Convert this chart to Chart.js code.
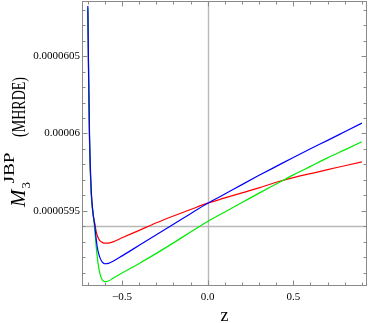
<!DOCTYPE html>
<html>
<head>
<meta charset="utf-8">
<script src="https://cdn.jsdelivr.net/npm/chart.js@4.4.0/dist/chart.umd.min.js"></script>
<style>
  html, body { margin: 0; padding: 0; background: #fff; }
  #wrap { width: 368px; height: 323px; }
</style>
</head>
<body>
<div id="wrap"><canvas id="grafico" width="368" height="323"></canvas></div>
<script>
// z values (x axis)
const zValues = [-0.70, -0.695, -0.69, -0.68, -0.67, -0.66, -0.655, -0.65, -0.645, -0.64, -0.63, -0.62, -0.61, -0.60, -0.58, -0.55,
    -0.5, -0.4, -0.3, -0.2, -0.1, 0, 0.1, 0.2, 0.3, 0.4, 0.5, 0.6, 0.7, 0.8, 0.9]

// M3 values, in units of 1e-6
const redValues = [60.790, 60.320, 59.940, 59.617, 59.481, 59.422, 59.390, 59.360, 59.341, 59.325, 59.307, 59.297, 59.292, 59.290, 59.291, 59.300,
    59.325, 59.373, 59.422, 59.466, 59.508, 59.549, 59.583, 59.616, 59.648, 59.684, 59.714, 59.740, 59.766, 59.791, 59.816]
const blueValues = [60.825, 60.357, 59.987, 59.630, 59.487, 59.409, 59.357, 59.305, 59.266, 59.237, 59.198, 59.175, 59.162, 59.157, 59.159, 59.175,
    59.208, 59.276, 59.344, 59.412, 59.481, 59.548, 59.608, 59.669, 59.729, 59.787, 59.845, 59.901, 59.955, 60.011, 60.067]
const greenValues = [60.812, 60.344, 59.968, 59.604, 59.494, 59.383, 59.318, 59.253, 59.201, 59.156, 59.097, 59.062, 59.045, 59.041, 59.045, 59.065,
    59.097, 59.159, 59.224, 59.292, 59.362, 59.431, 59.492, 59.553, 59.614, 59.673, 59.732, 59.787, 59.842, 59.894, 59.946]

// tick labels
const xTickValues = [-0.5, 0, 0.5]
const xTickLabels = ['\u22120.5', '0.0', '0.5']
const yTickValues = [59.5e-6, 60e-6, 60.5e-6]
const yTickLabels = ['0.0000595', '0.00006', '0.0000605']

// axis crossing lines
const xAxisAt = 59.4e-6
const yAxisAt = 0

const serif = "'Liberation Serif', 'Times New Roman', serif"

function toPoints(vals) {
    return zValues.map((z, i) => ({ x: z, y: vals[i] * 1e-6 }))
}

function noPad(s) {
    s.paddingTop = 0
    s.paddingBottom = 0
    s.paddingLeft = 0
    s.paddingRight = 0
}

// text squeezed along its own direction to a given length
function fitText(ctx, txt, u, v, len) {
    const w = ctx.measureText(txt).width
    ctx.save()
    ctx.translate(u, v)
    ctx.scale(len / w, 1)
    ctx.fillText(txt, 0, 0)
    ctx.restore()
}

// frame, inner ticks, axis lines and the y title
const frame = {
    id: 'frame',
    beforeDatasetsDraw(chart) {
        const { ctx, chartArea: a, scales: { x, y } } = chart
        ctx.save()
        ctx.strokeStyle = '#b8b8b8'
        ctx.lineWidth = 1.4
        const px = Math.round(x.getPixelForValue(yAxisAt)) + 0.5
        const py = Math.round(y.getPixelForValue(xAxisAt)) + 0.5
        ctx.beginPath()
        ctx.moveTo(px, a.top); ctx.lineTo(px, a.bottom)
        ctx.moveTo(a.left, py); ctx.lineTo(a.right, py)
        ctx.stroke()
        ctx.restore()
    },
    afterDatasetsDraw(chart) {
        const { ctx, chartArea: a, scales: { x, y } } = chart
        ctx.save()
        ctx.strokeStyle = '#8a8a8a'
        ctx.lineWidth = 1
        const L = Math.round(a.left) + 0.5, R = Math.round(a.right) - 0.5
        const T = Math.round(a.top) + 0.5, B = Math.round(a.bottom) - 0.5
        ctx.strokeRect(L, T, R - L, B - T)
        ctx.beginPath()
        for (let k = -7; k <= 9; k++) {
            const p = Math.round(x.getPixelForValue(k / 10)) + 0.5
            const len = (k % 5 === 0) ? 5 : 3
            ctx.moveTo(p, B); ctx.lineTo(p, B - len)
            ctx.moveTo(p, T); ctx.lineTo(p, T + len)
        }
        for (let k = 591; k <= 608; k++) {
            const p = Math.round(y.getPixelForValue(k * 1e-7)) + 0.5
            const len = (k % 5 === 0) ? 5 : 3
            ctx.moveTo(L, p); ctx.lineTo(L + len, p)
            ctx.moveTo(R, p); ctx.lineTo(R - len, p)
        }
        ctx.stroke()

        // y title: M_3^JBP(MHRDE), read bottom to top
        ctx.fillStyle = '#000'
        ctx.translate(25, 207)
        ctx.rotate(-Math.PI / 2)
        ctx.textBaseline = 'alphabetic'
        ctx.font = 'italic 21px ' + serif
        ctx.fillText('M', 0, 0)
        const wM = ctx.measureText('M').width
        ctx.font = '13px ' + serif
        ctx.fillText('3', wM + 1, 5)
        ctx.font = '15px ' + serif
        fitText(ctx, 'JBP', wM + 6, -11, 31)
        ctx.font = '19px ' + serif
        fitText(ctx, '(MHRDE)', 70, 0, 60)
        ctx.restore()
    }
}

const ctx = document.getElementById('grafico')
new Chart(ctx, {
    type: 'line',
    data: {
        datasets: [
            { label: 'blue', data: toPoints(blueValues), borderColor: 'rgb(0, 0, 255)' },
            { label: 'green', data: toPoints(greenValues), borderColor: 'rgb(0, 235, 0)' },
            { label: 'red', data: toPoints(redValues), borderColor: 'rgb(255, 0, 0)' }
        ]
    },
    options: {
        responsive: false,
        animation: false,
        layout: { padding: { top: 1, right: 1, left: 0, bottom: 0 } },
        elements: {
            point: { radius: 0 },
            line: { borderWidth: 1.2, cubicInterpolationMode: 'monotone', fill: false }
        },
        plugins: { legend: { display: false }, tooltip: { enabled: false } },
        scales: {
            x: {
                type: 'linear',
                min: -0.734,
                max: 0.93,
                bounds: 'data',
                grid: { display: false, drawTicks: false },
                border: { display: false },
                afterBuildTicks: s => { s.ticks = xTickValues.map(v => ({ value: v })) },
                afterFit: s => { s.height = 37; noPad(s) },
                ticks: {
                    autoSkip: false,
                    maxRotation: 0,
                    padding: 5,
                    color: '#000',
                    font: { family: serif, size: 11 },
                    callback: (v, i) => xTickLabels[i]
                },
                title: {
                    display: true,
                    text: 'z',
                    color: '#000',
                    font: { family: serif, size: 18 },
                    padding: { top: 0, bottom: -4 }
                }
            },
            y: {
                type: 'linear',
                min: 59.013e-6,
                max: 60.857e-6,
                bounds: 'data',
                grid: { display: false, drawTicks: false },
                border: { display: false },
                afterBuildTicks: s => { s.ticks = yTickValues.map(v => ({ value: v })) },
                afterFit: s => { s.width = 82; noPad(s) },
                ticks: {
                    autoSkip: false,
                    padding: 2,
                    color: '#000',
                    font: { family: serif, size: 11 },
                    callback: (v, i) => yTickLabels[i]
                }
            }
        }
    },
    plugins: [frame]
})
</script>
</body>
</html>
